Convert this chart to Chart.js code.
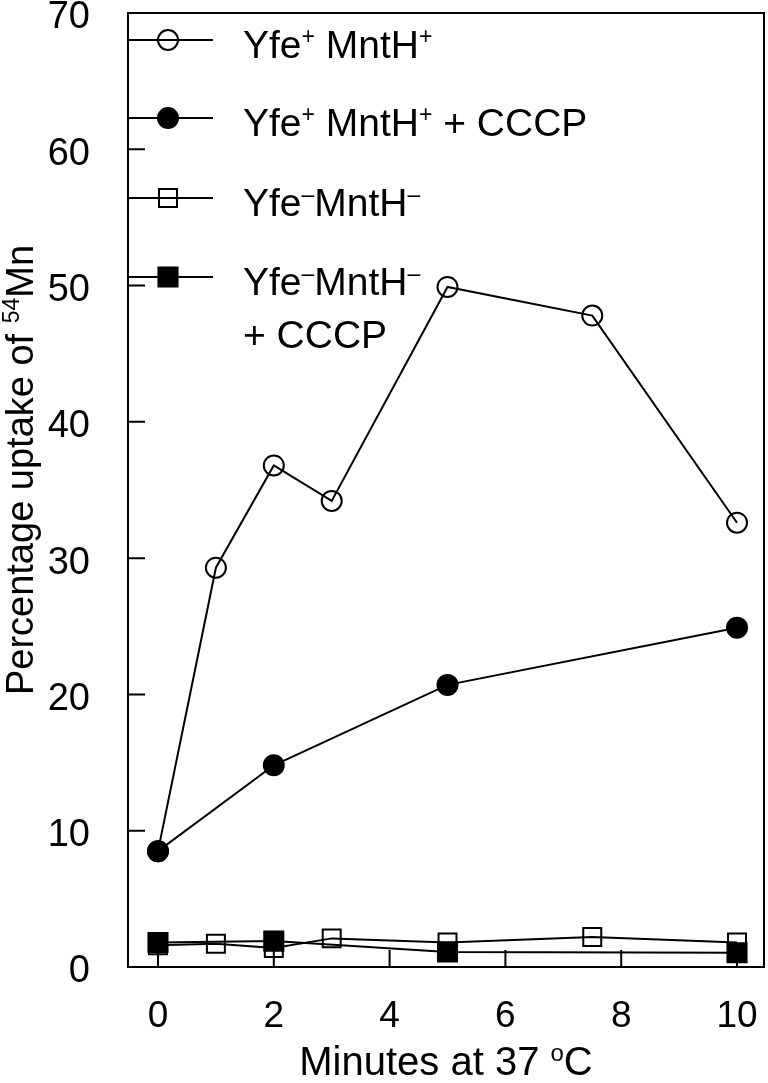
<!DOCTYPE html>
<html>
<head>
<meta charset="utf-8">
<script src="https://cdn.jsdelivr.net/npm/chart.js@4.4.1/dist/chart.umd.min.js"></script>
<style>
  html, body { margin: 0; padding: 0; background: #fff; }
  #myChart { display: block; }
</style>
</head>
<body>
<canvas id="myChart" width="768" height="1083"></canvas>
<script>
// data
const minutesAll = [0, 1, 2, 3, 5, 7.5, 10];
const minutesCCCP = [0, 2, 5, 10];
const uptakeWT = [8.5, 29.3, 36.8, 34.2, 49.9, 47.8, 32.6];
const uptakeWTCCCP = [8.5, 14.8, 20.7, 24.9];
const uptakeKO = [1.6, 1.7, 1.4, 2.1, 1.8, 2.2, 1.8];
const uptakeKOCCCP = [1.8, 1.9, 1.1, 1.05];

const xTicks = [0, 2, 4, 6, 8, 10];
const yTicks = [0, 10, 20, 30, 40, 50, 60, 70];

// legend text, parts with sup:true are superscripts
const legendNames = [
    [[{ t: 'Yfe' }, { t: '+', sup: true }, { t: ' MntH' }, { t: '+', sup: true }]],
    [[{ t: 'Yfe' }, { t: '+', sup: true }, { t: ' MntH' }, { t: '+', sup: true }, { t: ' + CCCP' }]],
    [[{ t: 'Yfe' }, { t: '\u2013', sup: true }, { t: 'MntH' }, { t: '\u2013', sup: true }]],
    [[{ t: 'Yfe' }, { t: '\u2013', sup: true }, { t: 'MntH' }, { t: '\u2013', sup: true }], [{ t: '+ CCCP' }]]
];
const xTitle = [{ t: 'Minutes at 37 ' }, { t: 'o', sup: true }, { t: 'C' }];
const yTitle = [{ t: 'Percentage uptake of ' }, { t: '54', sup: true }, { t: 'Mn' }];

const FONT = '"Liberation Sans", Arial, sans-serif';

function pts(xs, ys) {
    return xs.map((x, i) => ({ x: x, y: ys[i] }));
}

function drawRich(ctx, parts, x, y, size, align) {
    const supSize = Math.round(size * 0.6);
    let total = 0;
    parts.forEach(p => {
        ctx.font = (p.sup ? supSize : size) + 'px ' + FONT;
        total += ctx.measureText(p.t).width;
    });
    if (align === 'center') x -= total / 2;
    ctx.textAlign = 'left';
    ctx.textBaseline = 'alphabetic';
    parts.forEach(p => {
        ctx.font = (p.sup ? supSize : size) + 'px ' + FONT;
        ctx.fillText(p.t, x, y - (p.sup ? size * 0.36 : 0));
        x += ctx.measureText(p.t).width;
    });
}

// no extra room for overflowing tick labels, the box fills the canvas
function noOverflow(s) {
    s.paddingTop = 0;
    s.paddingBottom = 0;
    s.paddingLeft = 0;
    s.paddingRight = 0;
}

const frame = {
    id: 'frame',
    afterDatasetsDraw(chart) {
        const ctx = chart.ctx;
        const a = chart.chartArea;
        const xs = chart.scales.x, ys = chart.scales.y;
        ctx.save();
        ctx.strokeStyle = '#000';
        ctx.fillStyle = '#000';
        ctx.lineWidth = 2;
        ctx.strokeRect(a.left, a.top, a.right - a.left, a.bottom - a.top);
        // inward ticks
        ctx.beginPath();
        xs.ticks.forEach(t => {
            const px = xs.getPixelForValue(t.value);
            ctx.moveTo(px, a.bottom);
            ctx.lineTo(px, a.bottom - 17);
        });
        ys.ticks.forEach(t => {
            const py = ys.getPixelForValue(t.value);
            ctx.moveTo(a.left, py);
            ctx.lineTo(a.left + 17, py);
        });
        ctx.stroke();

        // legend inside the plot
        const rowY = [40, 118, 198, 277];
        chart.data.datasets.forEach((ds, i) => {
            const y = rowY[i];
            ctx.beginPath();
            ctx.moveTo(a.left, y);
            ctx.lineTo(a.left + 85, y);
            ctx.stroke();
            ctx.fillStyle = ds.pointBackgroundColor;
            Chart.helpers.drawPoint(ctx, {
                pointStyle: ds.pointStyle,
                radius: ds.pointRadius,
                borderWidth: 2,
                rotation: 0
            }, a.left + 40, y);
            ctx.fillStyle = '#000';
            legendNames[i].forEach((line, k) => {
                drawRich(ctx, line, a.left + 115, y + 18 + k * 53, 39, 'left');
            });
        });

        // axis titles
        drawRich(ctx, xTitle, (a.left + a.right) / 2, 1075, 40, 'center');
        ctx.translate(33, 470);
        ctx.rotate(-Math.PI / 2);
        drawRich(ctx, yTitle, 0, 0, 38, 'center');
        ctx.restore();
    }
};

const lineStyle = {
    borderColor: '#000',
    borderWidth: 2,
    pointBorderColor: '#000',
    pointBorderWidth: 2,
    tension: 0,
    fill: false,
    clip: false
};

const ctx = document.getElementById('myChart');

new Chart(ctx, {
    type: 'line',
    data: {
        datasets: [{
            ...lineStyle,
            data: pts(minutesAll, uptakeWT),
            pointStyle: 'circle',
            pointRadius: 10,
            pointBackgroundColor: 'rgba(0,0,0,0)',
            order: 4
        }, {
            ...lineStyle,
            data: pts(minutesCCCP, uptakeWTCCCP),
            pointStyle: 'circle',
            pointRadius: 10,
            pointBackgroundColor: '#000',
            order: 2
        }, {
            ...lineStyle,
            data: pts(minutesAll, uptakeKO),
            pointStyle: 'rect',
            pointRadius: 12.7,
            pointBackgroundColor: 'rgba(0,0,0,0)',
            order: 3
        }, {
            ...lineStyle,
            data: pts(minutesCCCP, uptakeKOCCCP),
            pointStyle: 'rect',
            pointRadius: 13.5,
            pointBackgroundColor: '#000',
            order: 1
        }]
    },
    options: {
        responsive: false,
        devicePixelRatio: 1,
        animation: false,
        layout: { autoPadding: false, padding: { top: 13, right: 4, left: 0, bottom: 0 } },
        plugins: {
            colors: { enabled: false },
            legend: { display: false },
            tooltip: { enabled: false }
        },
        scales: {
            x: {
                type: 'linear',
                min: -0.518,
                max: 10.466,
                afterBuildTicks: s => { s.ticks = xTicks.map(v => ({ value: v })); },
                afterFit: s => { s.height = 116; noOverflow(s); },
                grid: { display: false },
                border: { display: false },
                ticks: {
                    color: '#000',
                    padding: 20,
                    maxRotation: 0,
                    font: { family: FONT, size: 37 }
                }
            },
            y: {
                min: 0,
                max: 70,
                afterBuildTicks: s => { s.ticks = yTicks.map(v => ({ value: v })); },
                afterFit: s => { s.width = 128; noOverflow(s); },
                grid: { display: false },
                border: { display: false },
                ticks: {
                    color: '#000',
                    padding: 30,
                    labelOffset: 5,
                    font: { family: FONT, size: 38 }
                }
            }
        }
    },
    plugins: [frame]
});
</script>
</body>
</html>
